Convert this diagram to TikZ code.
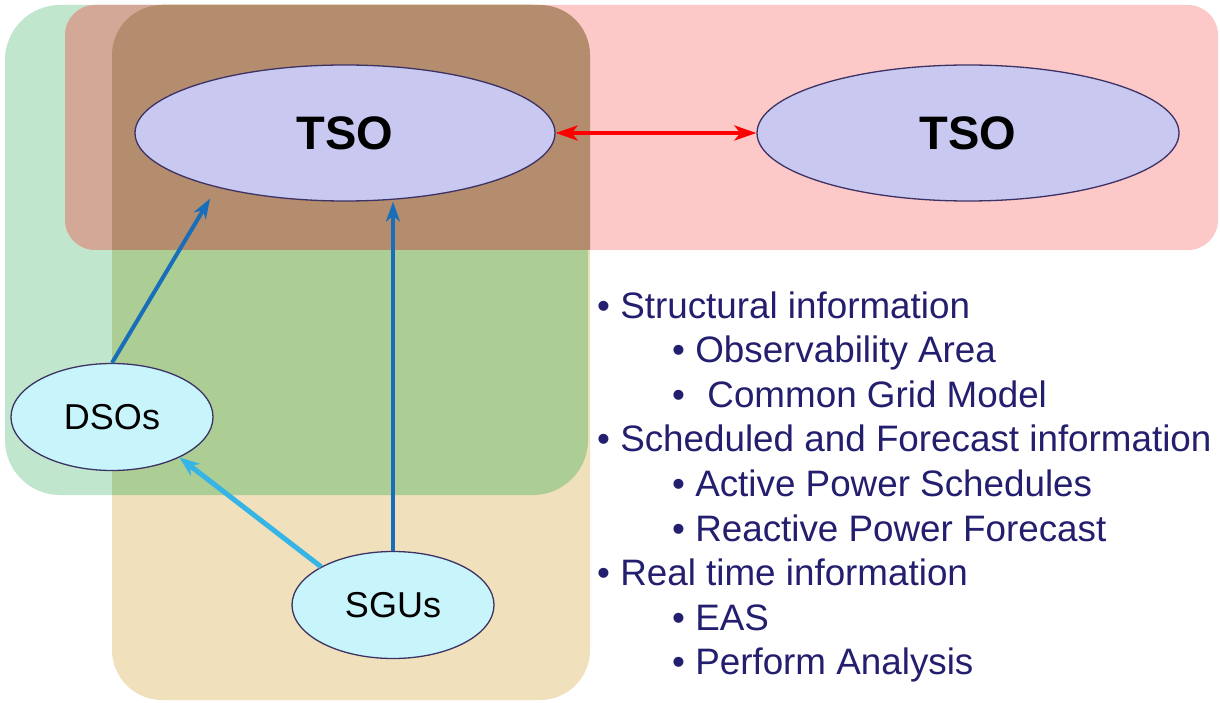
\documentclass[tikz,border=0pt]{standalone}
\usepackage{fontspec}
\setmainfont{Liberation Sans}
\usetikzlibrary{arrows.meta,shapes.geometric}
\definecolor{mintc}{RGB}{192,230,205}
\definecolor{pinkc}{RGB}{252,200,200}
\definecolor{tanc}{RGB}{240,224,188}
\definecolor{olivec}{RGB}{172,205,148}
\definecolor{pinkbrownc}{RGB}{212,168,150}
\definecolor{brownc}{RGB}{180,140,110}
\definecolor{lavc}{RGB}{200,200,240}
\definecolor{cyanc}{RGB}{200,245,252}
\definecolor{navyc}{RGB}{35,30,110}
\definecolor{edgec}{RGB}{60,50,100}
\definecolor{darkbluec}{RGB}{25,110,185}
\definecolor{lightbluec}{RGB}{55,180,230}
\begin{document}
\begin{tikzpicture}[x=1pt,y=-1pt,
  tsobox/.style={ellipse,draw=edgec,line width=1.3pt,fill=lavc,minimum width=420pt,minimum height=136pt,inner sep=0pt,font=\fontsize{47}{50}\selectfont\bfseries},
  smallbox/.style={ellipse,draw=edgec,line width=1.3pt,fill=cyanc,minimum width=202pt,minimum height=107pt,inner sep=0pt,font=\fontsize{36}{40}\selectfont},
  darkarrow/.style={draw=darkbluec,line width=4pt,-{Stealth[length=20pt,width=14pt,inset=6pt]}},
  lightarrow/.style={draw=lightbluec,line width=5pt,-{Stealth[length=20pt,width=15pt,inset=6pt]}},
  redarrow/.style={draw=red,line width=4pt,{Stealth[length=22pt,width=15pt,inset=6pt]}-{Stealth[length=22pt,width=15pt,inset=6pt]}},
  item/.style={anchor=base west,inner sep=0pt,text=navyc,font=\fontsize{36.8}{44}\selectfont}
]
\useasboundingbox (0,0) rectangle (1220,703);
\fill[white] (0,0) rectangle (1220,703);
\def\G{(5,5) rectangle (588,495)}
\def\R{(65,5) rectangle (1218,250)}
\def\T{(112,5) rectangle (590,700)}
% regions
\fill[mintc,rounded corners=55pt] \G;
\fill[tanc,rounded corners=50pt] \T;
\begin{scope}
  \clip[rounded corners=55pt] \G;
  \fill[olivec,rounded corners=50pt] \T;
\end{scope}
\fill[pinkc,rounded corners=30pt] \R;
\begin{scope}
  \clip[rounded corners=55pt] \G;
  \fill[pinkbrownc,rounded corners=30pt] \R;
\end{scope}
\begin{scope}
  \clip[rounded corners=50pt] \T;
  \fill[brownc,rounded corners=30pt] \R;
\end{scope}
% nodes
\node[tsobox] (tso1) at (345,133) {TSO};
\node[tsobox,minimum width=422pt] (tso2) at (968,133) {TSO};
\node[smallbox] (dso) at (112,417) {DSOs};
\node[smallbox] (sgu) at (393,605) {SGUs};
% connectors
\draw[redarrow] (tso1) -- (tso2);
\draw[darkarrow,shorten >=13pt] (dso.north) -- (tso1.203);
\draw[darkarrow] (sgu.north) -- (sgu.north |- tso1.south);
\draw[lightarrow] (sgu.152) -- (dso.-31);
% text
\node[item] (t1) at (597,318) {• Structural information};
\node[item] (t2) at (672,362.6) {• Observability Area};
\node[item] (t3) at (672,407.2) {•\hspace{22.4pt}Common Grid Model};
\node[item] (t4) at (597,451.8) {• Scheduled and Forecast information};
\node[item] (t5) at (672,496.4) {• Active Power Schedules};
\node[item] (t6) at (672,541) {• Reactive Power Forecast};
\node[item] (t7) at (597,585.6) {• Real time information};
\node[item] (t8) at (672,630.2) {• EAS};
\node[item] (t9) at (672,674.8) {• Perform Analysis};
\end{tikzpicture}
\end{document}
